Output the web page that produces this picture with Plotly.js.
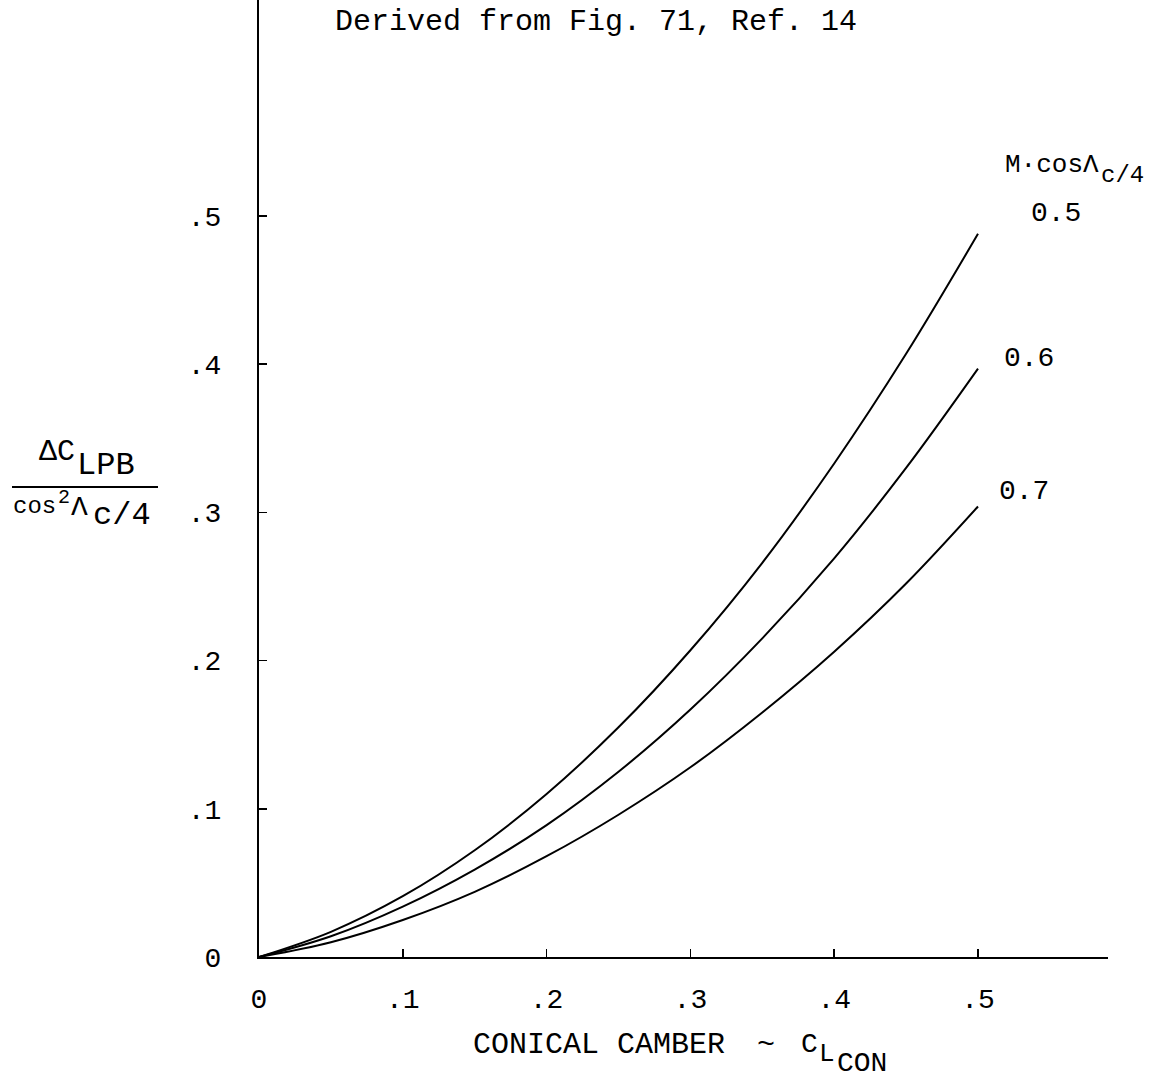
<!DOCTYPE html>
<html>
<head>
<meta charset="utf-8">
<script src="https://cdn.plot.ly/plotly-3.0.1.min.js"></script>
<style>html,body{margin:0;padding:0;background:#fff;}#chart{width:1169px;height:1081px;}</style>
</head>
<body>
<div id="chart"></div>
<script>
// Data
const camber = [0, 0.05, 0.10, 0.15, 0.20, 0.25, 0.30, 0.35, 0.40, 0.45, 0.50];
const dCL_M05 = [0, 0.017, 0.041, 0.072, 0.110, 0.155, 0.207, 0.266, 0.333, 0.407, 0.488];
const dCL_M06 = [0, 0.014, 0.034, 0.059, 0.089, 0.125, 0.167, 0.215, 0.269, 0.330, 0.397];
const dCL_M07 = [0, 0.010, 0.025, 0.044, 0.068, 0.096, 0.128, 0.165, 0.206, 0.252, 0.304];
const seriesNames = ["0.5", "0.6", "0.7"];
const xTickVals = [0, 0.1, 0.2, 0.3, 0.4, 0.5];
const xTickText = ["0", ".1", ".2", ".3", ".4", ".5"];
const yTickVals = [0, 0.1, 0.2, 0.3, 0.4, 0.5];
const yTickText = ["0", ".1", ".2", ".3", ".4", ".5"];

const FONT = "Liberation Mono, Courier New, monospace";
const W = 1169, H = 1081;
const mL = 259, mR = 61, mT = 0, mB = 124;
const pw = W - mL - mR, ph = H - mT - mB;
const px = x => (x - mL) / pw;          // pixel -> paper x
const py = y => (H - mB - y) / ph;      // pixel -> paper y

const allY = [dCL_M05, dCL_M06, dCL_M07];
const traces = allY.map((ys, i) => ({
  x: camber, y: ys, type: "scatter", mode: "lines", name: seriesNames[i],
  line: {color: "#000", width: 2, shape: "spline", smoothing: 1},
  showlegend: false, hoverinfo: "skip"
}));

function txt(text, x, y, size, anchor) {
  return {text: text, x: px(x), y: py(y), xref: "paper", yref: "paper",
    xanchor: anchor || "left", yanchor: "middle", showarrow: false, borderpad: 0,
    font: {family: FONT, size: size, color: "#000"}};
}

const labelPos = [[1030, 213], [1003, 358], [998, 491]];
const annotations = [
  txt("Derived from Fig. 71, Ref. 14", 596, 22, 30, "center"),
  txt("M·cosΛ", 1004, 165, 26),
  txt("c/4", 1100, 175, 24),
  // y-axis title (fraction)
  txt("ΔC", 38, 452, 30),
  txt("LPB", 76, 466, 32),
  txt("cos", 12, 506, 24),
  txt("2", 57, 497, 20),
  txt("Λ", 70, 508, 28),
  txt("c/4", 92, 516, 32),
  // x-axis title
  txt("CONICAL CAMBER", 472, 1045, 30),
  txt("~", 766, 1045, 30, "center"),
  txt("C", 800, 1044, 28),
  txt("L", 818, 1054, 26),
  txt("CON", 836, 1063, 28)
];
seriesNames.forEach((n, i) => annotations.push(txt(n, labelPos[i][0], labelPos[i][1], 28)));

const layout = {
  width: W, height: H,
  margin: {l: mL, r: mR, t: mT, b: mB, pad: 0},
  paper_bgcolor: "#fff", plot_bgcolor: "#fff",
  showlegend: false,
  xaxis: {
    range: [0, (1108 - mL) / 1438], showgrid: false, zeroline: false,
    showline: true, linecolor: "#000", linewidth: 2,
    ticks: "inside", ticklen: 8, tickwidth: 1.5, tickcolor: "#000",
    tickvals: xTickVals, ticktext: xTickText, ticklabelstandoff: 15,
    tickfont: {family: FONT, size: 28, color: "#000"}
  },
  yaxis: {
    range: [0, (H - mB) / 1482], showgrid: false, zeroline: false,
    showline: true, linecolor: "#000", linewidth: 2,
    ticks: "inside", ticklen: 8, tickwidth: 1.5, tickcolor: "#000",
    tickvals: yTickVals, ticktext: yTickText, ticklabelstandoff: 30,
    tickfont: {family: FONT, size: 28, color: "#000"}
  },
  shapes: [
    {type: "line", xref: "paper", yref: "paper", x0: px(12), x1: px(158), y0: py(487), y1: py(487),
     line: {color: "#000", width: 2}}
  ],
  annotations: annotations
};

Plotly.newPlot("chart", traces, layout, {staticPlot: true, displayModeBar: false});
</script>
</body>
</html>
